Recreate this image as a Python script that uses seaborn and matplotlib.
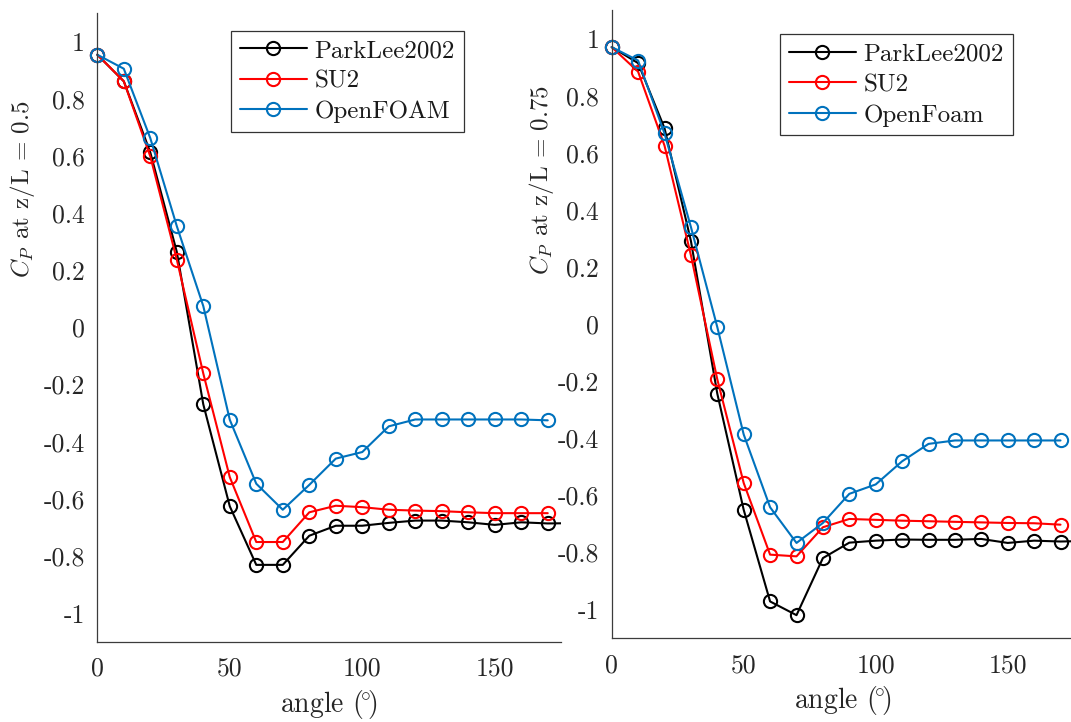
import numpy as np
import pandas as pd
import matplotlib
matplotlib.use("Agg")
import matplotlib.pyplot as plt
from matplotlib.patches import Rectangle
from matplotlib.ticker import FuncFormatter, FixedLocator
import seaborn as sns

# Pressure coefficient around the cylinder at two heights
angle = [0, 10, 20, 30, 40, 50, 60, 70, 80, 90, 100, 110, 120, 130, 140, 150, 160, 170]
angle_exp = angle + [180]

# z/L = 0.5
exp_050 = [0.955, 0.862, 0.613, 0.265, -0.269, -0.626, -0.831, -0.831, -0.729, -0.694,
           -0.694, -0.684, -0.676, -0.676, -0.682, -0.691, -0.682, -0.686, -0.685]
su2_050 = [0.955, 0.862, 0.599, 0.238, -0.161, -0.524, -0.751, -0.751, -0.647, -0.624,
           -0.629, -0.638, -0.641, -0.643, -0.647, -0.650, -0.650, -0.650]
of_050 = [0.955, 0.906, 0.663, 0.355, 0.075, -0.323, -0.547, -0.638, -0.551, -0.459,
          -0.436, -0.346, -0.322, -0.322, -0.322, -0.322, -0.322, -0.325]

# z/L = 0.75
exp_075 = [0.970, 0.914, 0.686, 0.291, -0.244, -0.651, -0.972, -1.020, -0.820, -0.766,
           -0.759, -0.755, -0.756, -0.756, -0.753, -0.767, -0.759, -0.762, -0.760]
su2_075 = [0.970, 0.884, 0.625, 0.241, -0.194, -0.557, -0.808, -0.814, -0.712, -0.683,
           -0.686, -0.689, -0.691, -0.693, -0.695, -0.697, -0.698, -0.703]
of_075 = [0.970, 0.923, 0.668, 0.340, -0.011, -0.387, -0.642, -0.767, -0.697, -0.595,
          -0.562, -0.481, -0.420, -0.408, -0.408, -0.408, -0.408, -0.408]

labels_050 = ["ParkLee2002", "SU2", "OpenFOAM"]
labels_075 = ["ParkLee2002", "SU2", "OpenFoam"]
colors = ["#000000", "#FF0000", "#0072BD"]

yticks = [-1, -0.8, -0.6, -0.4, -0.2, 0, 0.2, 0.4, 0.6, 0.8, 1]
xticks = [0, 50, 100, 150]

sns.set_theme(style="white")
plt.rcParams["font.family"] = ["cmr10"]
plt.rcParams["mathtext.fontset"] = "cm"
plt.rcParams["axes.unicode_minus"] = False
plt.rcParams["axes.formatter.use_mathtext"] = True

W, H = 1071, 722
fig = plt.figure(figsize=(W / 100, H / 100), dpi=100)
ax1 = fig.add_axes([97.3 / W, 1 - 641.7 / H, (561.0 - 97.3) / W, (641.7 - 13.3) / H])
ax2 = fig.add_axes([611.7 / W, 1 - 638.0 / H, 462.0 / W, (638.0 - 10.0) / H])

axis_col = "#3c3c3c"
text_col = "#262626"


def fmt(v, pos=None):
    v = round(v, 6)
    if v == 0:
        return "0"
    return f"{v:g}"


def draw(ax, series, labels, ylabel, legend_anchor, ylabel_pos):
    xs = [angle_exp, angle, angle]
    for x, y, lab, c in zip(xs, series, labels, colors):
        sns.lineplot(x=x, y=y, ax=ax, color=c, marker="o", markersize=9.5,
                     markerfacecolor="none", markeredgecolor=c, markeredgewidth=1.5,
                     linewidth=1.5, label=lab, errorbar=None, sort=False)
    # clip only on the right/bottom so edge markers are drawn whole
    clip = Rectangle((-0.05, -0.05), 1.05, 1.1, transform=ax.transAxes,
                     facecolor="none", edgecolor="none")
    ax.add_patch(clip)
    clip.set_visible(False)
    for ln in ax.get_lines():
        ln.set_clip_path(clip)

    ax.set_xlim(0, 175)
    ax.set_ylim(-1.1, 1.1)
    ax.xaxis.set_major_locator(FixedLocator(xticks))
    ax.yaxis.set_major_locator(FixedLocator(yticks))
    ax.yaxis.set_major_formatter(FuncFormatter(fmt))
    ax.xaxis.set_major_formatter(FuncFormatter(fmt))
    ax.tick_params(axis="both", direction="in", length=5, width=0.9, colors=axis_col,
                   labelcolor=text_col, labelsize=18.5)
    ax.tick_params(axis="y", pad=9)
    ax.tick_params(axis="x", pad=11)
    for s in ["top", "right"]:
        ax.spines[s].set_visible(False)
    for s in ["left", "bottom"]:
        ax.spines[s].set_color(axis_col)
        ax.spines[s].set_linewidth(0.9)
    ax.set_xlabel(r"angle $(\!^{\circ}\!)$", fontsize=20, color=text_col, labelpad=5)
    ax.set_ylabel(ylabel, fontsize=18, color=text_col)
    ax.yaxis.set_label_coords(*ylabel_pos)
    ax.set_facecolor("white")

    leg = ax.legend(loc="upper left", bbox_to_anchor=legend_anchor, fontsize=18,
                    frameon=True, fancybox=False, framealpha=1, edgecolor="#333333",
                    handlelength=2.7, handletextpad=0.3, labelspacing=0.32,
                    borderpad=0.35, borderaxespad=0, numpoints=1)
    leg.get_frame().set_linewidth(0.9)
    for t in leg.get_texts():
        t.set_color("#1a1a1a")


draw(ax1, [exp_050, su2_050, of_050], labels_050, r"$C_P$ at z/L = 0.5",
     (0.288, 0.972), (-0.131, 0.72))
draw(ax2, [exp_075, su2_075, of_075], labels_075, r"$C_P$ at z/L = 0.75",
     (0.364, 0.961), (-0.121, 0.73))

fig.savefig("out.png", dpi=100, facecolor="white")
